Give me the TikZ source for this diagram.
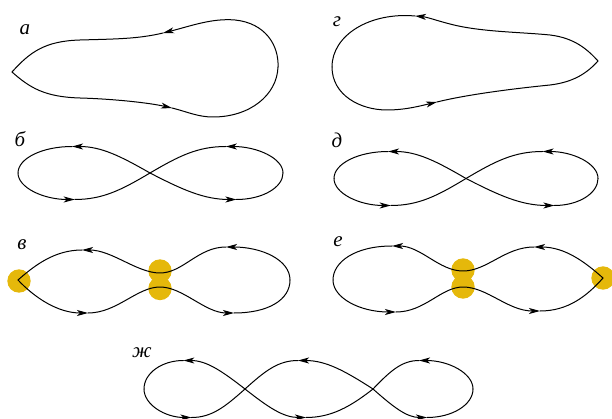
\documentclass[tikz,border=0pt]{standalone}
\usepackage{fontspec}
\setmainfont{Liberation Serif}
\usetikzlibrary{arrows.meta}
\definecolor{gold}{HTML}{E5B80B}
\tikzset{
  ln/.style={line width=1pt, line cap=round, line join=round},
  tip/.style={-{Stealth[length=11pt,width=6pt,inset=3pt]}},
  lbl/.style={font=\fontsize{21}{21}\selectfont\itshape, inner sep=0pt, anchor=base},
  dot/.style={fill=gold, draw=none},
}
% right lobe: #1 crossing x, #2 y, #3 extreme x, #4 half height, #5 top frac, #6 bottom frac
\newcommand\rlobe[6]{%
  \pgfmathsetmacro\lobta{#1+#5*(#3-#1)}\pgfmathsetmacro\lobtb{#1+#6*(#3-#1)}%
  \pgfmathsetmacro\lobda{\lobta-#1}\pgfmathsetmacro\lobdb{#3-\lobta}%
  \pgfmathsetmacro\lobea{\lobtb-#1}\pgfmathsetmacro\lobeb{#3-\lobtb}%
  \draw[ln,tip] (#3,#2) .. controls (#3,{#2-0.552*#4}) and ({\lobta+0.552*\lobdb},{#2-#4}) .. (\lobta,{#2-#4});
  \draw[ln] (\lobta,{#2-#4}) .. controls ({\lobta-0.375*\lobda},{#2-#4}) and ({#1+0.375*\lobda},{#2-0.63*#4}) .. (#1,#2);
  \draw[ln,tip] (#1,#2) .. controls ({#1+0.375*\lobea},{#2+0.63*#4}) and ({\lobtb-0.375*\lobea},{#2+#4}) .. (\lobtb,{#2+#4});
  \draw[ln] (\lobtb,{#2+#4}) .. controls ({\lobtb+0.552*\lobeb},{#2+#4}) and (#3,{#2+0.552*#4}) .. (#3,#2);
}
% left lobe
\newcommand\llobe[6]{%
  \pgfmathsetmacro\lobta{#1-#5*(#1-#3)}\pgfmathsetmacro\lobtb{#1-#6*(#1-#3)}%
  \pgfmathsetmacro\lobda{#1-\lobta}\pgfmathsetmacro\lobdb{\lobta-#3}%
  \pgfmathsetmacro\lobea{#1-\lobtb}\pgfmathsetmacro\lobeb{\lobtb-#3}%
  \draw[ln,tip] (#1,#2) .. controls ({#1-0.375*\lobda},{#2-0.63*#4}) and ({\lobta+0.375*\lobda},{#2-#4}) .. (\lobta,{#2-#4});
  \draw[ln] (\lobta,{#2-#4}) .. controls ({\lobta-0.552*\lobdb},{#2-#4}) and (#3,{#2-0.552*#4}) .. (#3,#2);
  \draw[ln,tip] (#3,#2) .. controls (#3,{#2+0.552*#4}) and ({\lobtb-0.552*\lobeb},{#2+#4}) .. (\lobtb,{#2+#4});
  \draw[ln] (\lobtb,{#2+#4}) .. controls ({\lobtb+0.375*\lobea},{#2+#4}) and ({#1-0.375*\lobea},{#2+0.63*#4}) .. (#1,#2);
}
\begin{document}
\begin{tikzpicture}[x=1pt,y=-1pt]
\useasboundingbox (0,0) rectangle (612,419);
\clip (0,0) rectangle (612,419);

% labels
\node[lbl] (la) at (25,35) {а};
\node[lbl] (lg) at (337,27) {г};
\node[lbl] (lb) at (20,147) {б};
\node[lbl] (ld) at (337,148) {д};
\node[lbl] (lv) at (22,250) {в};
\node[lbl] (le) at (338,247) {е};
\node[lbl] (lzh) at (142,357) {ж};

% (a)
\draw[ln,tip] (278,67) .. controls (279,45) and (265,23) .. (235,20) .. controls (212,18) and (191,26) .. (163,33);
\draw[ln] (163,33) .. controls (138,39) and (115,39) .. (80,40) .. controls (45,41) and (30,52) .. (12,72);
\draw[ln,tip] (12,72) .. controls (30,88) and (45,97) .. (80,98) .. controls (115,99) and (150,103) .. (172,108);
\draw[ln] (172,108) .. controls (188,112) and (198,117) .. (213,117) .. controls (250,117) and (277,95) .. (278,67);

% (g)
\draw[ln,tip] (598,61) .. controls (588,50) and (575,38) .. (550,35) .. controls (520,32) and (480,32) .. (450,24) .. controls (438,21) and (427,17) .. (415,16);
\draw[ln] (415,16) .. controls (370,12) and (332,35) .. (332,67);
\draw[ln,tip] (332,67) .. controls (332,95) and (360,110) .. (387,110) .. controls (405,110) and (420,106) .. (437,102);
\draw[ln] (437,102) .. controls (465,95) and (510,89) .. (550,85) .. controls (575,82) and (588,72) .. (598,61);

% (b)
\llobe{150}{173}{18}{26.5}{0.59}{0.57}
\rlobe{150}{173}{283}{26.5}{0.57}{0.65}

% (d)
\llobe{466}{178.5}{334}{27}{0.59}{0.57}
\rlobe{466}{178.5}{598}{27}{0.58}{0.67}

% (v)
\fill[dot] (19,281) circle[radius=11.7pt];
\fill[dot] (160,271) circle[radius=11.7pt];
\fill[dot] (160,288.5) circle[radius=11.7pt];
\draw[ln,tip] (18,280) .. controls (35,298) and (58,313) .. (88,313);
\draw[ln,tip] (88,313) .. controls (117,313) and (137,287) .. (160,287) .. controls (183,287) and (205,313) .. (234,313);
\draw[ln] (234,313) .. controls (268,313) and (290,300) .. (290,280);
\draw[ln,tip] (290,280) .. controls (290,260) and (262,247) .. (226,247);
\draw[ln,tip] (226,247) .. controls (198,247) and (183,273) .. (160,273) .. controls (137,273) and (112,250) .. (82,250);
\draw[ln] (82,250) .. controls (55,250) and (35,265) .. (18,280);

% (e)
\fill[dot] (463,270) circle[radius=11.7pt];
\fill[dot] (463,287) circle[radius=11.7pt];
\fill[dot] (603,278) circle[radius=11.7pt];
\draw[ln,tip] (603,278) .. controls (585,262) and (565,247) .. (534,247);
\draw[ln,tip] (534,247) .. controls (505,247) and (487,271) .. (463,271) .. controls (439,271) and (421,246) .. (392,246);
\draw[ln] (392,246) .. controls (355,246) and (333,262) .. (333,280);
\draw[ln,tip] (333,280) .. controls (333,298) and (360,312) .. (396,312);
\draw[ln,tip] (396,312) .. controls (425,312) and (441,287) .. (463,287) .. controls (487,287) and (508,311) .. (540,311);
\draw[ln] (540,311) .. controls (568,311) and (587,296) .. (603,278);

% (zh)
\llobe{245}{389}{144}{28.5}{0.61}{0.53}
\rlobe{373}{389}{473}{28.5}{0.46}{0.54}
\draw[ln,tip] (373,389) .. controls (345,371) and (326,360.5) .. (298,360.5);
\draw[ln] (298,360.5) .. controls (278,360.5) and (265,371) .. (245,389);
\draw[ln,tip] (245,389) .. controls (268,407) and (283,417.5) .. (306,417.5);
\draw[ln] (306,417.5) .. controls (331,417.5) and (350,407) .. (373,389);
\end{tikzpicture}
\end{document}
